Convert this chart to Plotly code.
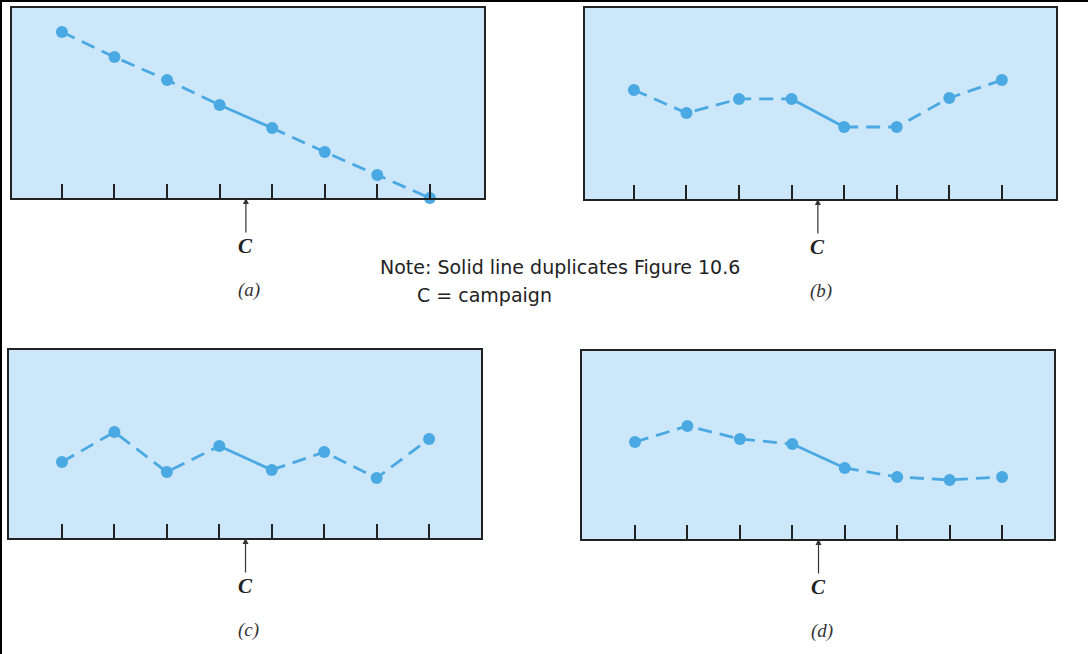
import plotly.graph_objects as go

# periods (ticks) and campaign position
periods = [1, 2, 3, 4, 5, 6, 7, 8]
campaign_at = 4.5

# values (0 = bottom of panel, 100 = top)
sales_a = [87.4, 74.2, 62.1, 48.9, 36.8, 24.2, 12.1, 0.0]
sales_b = [57.1, 45.0, 52.4, 52.4, 37.7, 37.7, 52.9, 62.3]
sales_c = [40.4, 56.4, 35.1, 48.9, 36.2, 45.7, 31.9, 52.7]
sales_d = [51.6, 60.1, 53.2, 50.5, 37.8, 33.0, 31.4, 33.0]

panel_labels = ["(a)", "(b)", "(c)", "(d)"]
note_lines = ["Note: Solid line duplicates Figure 10.6", "C = campaign"]

W, H = 1088, 654
BLUE = "#4aa9e3"
FILL = "#cce7f9"
SERIF = "Liberation Serif"
DASH = "14px,8px"

# pixel boxes of each panel: (left, right, top, bottom), x range
panels = [
    (sales_a, (12, 484, 8, 198), [0.05, 9.03]),
    (sales_b, (585, 1056, 8, 199), [0.07, 9.03]),
    (sales_c, (9, 481, 350, 538), [-0.01, 8.99]),
    (sales_d, (582, 1054, 351, 539), [-0.01, 8.99]),
]

fig = go.Figure()
layout = {}
annotations = []

for i, (vals, (l, r, t, b), xr) in enumerate(panels):
    n = "" if i == 0 else str(i + 1)
    xa, ya = "x" + n, "y" + n

    # dashed before and after the campaign, solid across it
    for xs, ys, dash in [
        (periods[:4], vals[:4], DASH),
        (periods[3:5], vals[3:5], "solid"),
        (periods[4:], vals[4:], DASH),
    ]:
        fig.add_trace(go.Scatter(
            x=xs, y=ys, mode="lines", xaxis=xa, yaxis=ya,
            line=dict(color=BLUE, width=2.8, dash=dash),
            showlegend=False, hoverinfo="skip", cliponaxis=False,
        ))
    fig.add_trace(go.Scatter(
        x=periods, y=vals, mode="markers", xaxis=xa, yaxis=ya,
        marker=dict(color=BLUE, size=12), showlegend=False, cliponaxis=False,
    ))

    layout["xaxis" + n] = dict(
        domain=[l / W, r / W], anchor=ya, range=xr,
        tickvals=periods, showticklabels=False, ticks="inside",
        ticklen=14, tickwidth=1.8, tickcolor="#222",
        showline=True, mirror=True, linecolor="#222", linewidth=1.8,
        showgrid=False, zeroline=False, fixedrange=True,
    )
    layout["yaxis" + n] = dict(
        domain=[1 - b / H, 1 - t / H], anchor=xa, range=[0, 100],
        showticklabels=False, ticks="", showline=True, mirror=True,
        linecolor="#222", linewidth=1.8,
        showgrid=False, zeroline=False, fixedrange=True,
    )

    # campaign arrow with C
    annotations.append(dict(
        x=campaign_at, y=0, xref=xa, yref=ya,
        text="<b><i>C</i></b>", showarrow=True,
        arrowhead=2, arrowsize=1, arrowwidth=1.2, arrowcolor="#333",
        ax=0, ay=48, font=dict(family=SERIF, size=21, color="#222"),
    ))
    # panel label under the arrow
    cx = l + (r - l) * (campaign_at - xr[0]) / (xr[1] - xr[0])
    annotations.append(dict(
        x=(cx + 3) / W, y=1 - (b + 92) / H, xref="paper", yref="paper",
        xanchor="center", yanchor="middle",
        text="<i>" + panel_labels[i] + "</i>", showarrow=False,
        font=dict(family=SERIF, size=19, color="#333"),
    ))

    fig.add_shape(type="rect", xref=xa + " domain", yref=ya + " domain",
                  x0=0, x1=1, y0=0, y1=1, fillcolor=FILL,
                  line=dict(width=0), layer="below")

annotations.append(dict(
    x=378 / W, y=1 - 267 / H, xref="paper", yref="paper",
    xanchor="left", yanchor="middle",
    text=note_lines[0], showarrow=False,
    font=dict(family="DejaVu Sans", size=19, color="#222"),
))
annotations.append(dict(
    x=415 / W, y=1 - 295 / H, xref="paper", yref="paper",
    xanchor="left", yanchor="middle",
    text=note_lines[1], showarrow=False,
    font=dict(family="DejaVu Sans", size=19, color="#222"),
))

# black frame lines on the top and left edges
fig.add_shape(type="line", xref="paper", yref="paper", x0=0, x1=1, y0=1, y1=1,
              line=dict(color="black", width=4))
fig.add_shape(type="line", xref="paper", yref="paper", x0=0, x1=0, y0=0, y1=1,
              line=dict(color="black", width=4))

fig.update_layout(
    width=W, height=H, margin=dict(l=0, r=0, t=0, b=0),
    paper_bgcolor="white", plot_bgcolor="rgba(0,0,0,0)",
    annotations=annotations, **layout,
)

fig.write_html("out.html", config={"displayModeBar": False},
               post_script="document.body.style.margin='0';")
